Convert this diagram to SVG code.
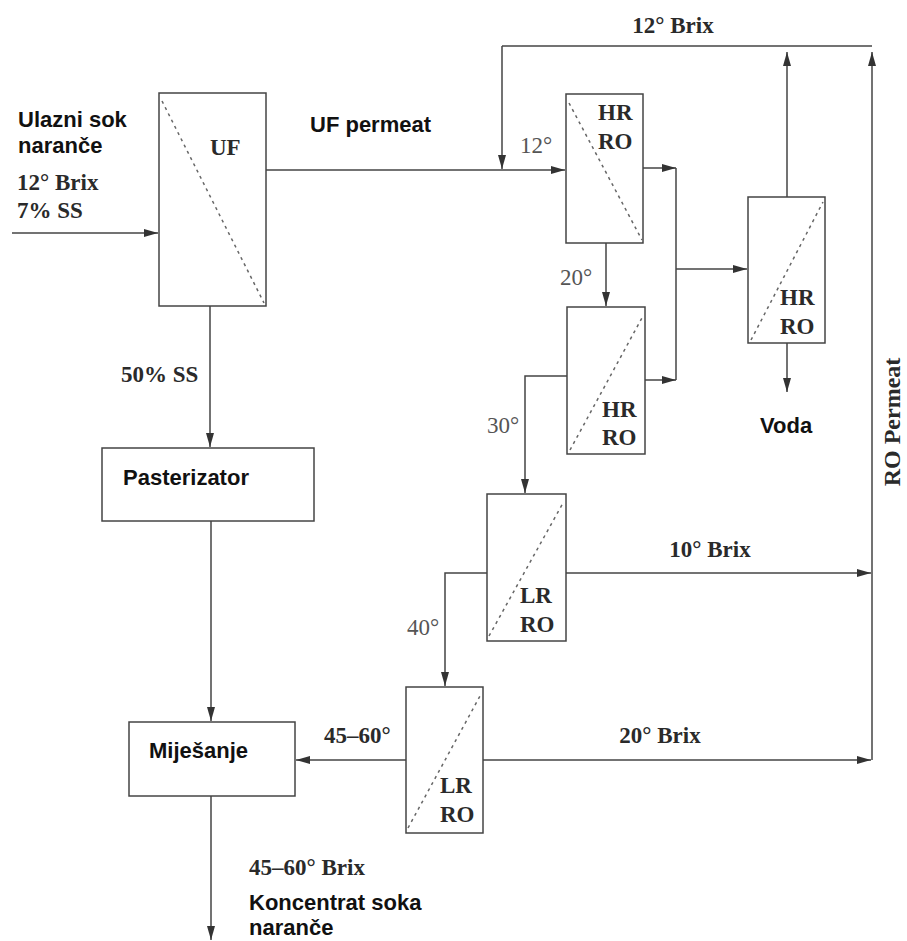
<svg xmlns="http://www.w3.org/2000/svg" width="907" height="941" viewBox="0 0 907 941">
<style>
.box{fill:#fff;stroke:#444;stroke-width:1.5}
.dash{fill:none;stroke:#666;stroke-width:1.5;stroke-dasharray:3,4}
.ln{fill:none;stroke:#444;stroke-width:1.5}
.arr{fill:none;stroke:#444;stroke-width:1.5;marker-end:url(#ah)}
.sb{font-family:"Times New Roman","Liberation Serif",serif;font-weight:bold;font-size:23px;fill:#2a2a2a}
.sr{font-family:"Times New Roman","Liberation Serif",serif;font-size:23px;fill:#555}
.ss{font-family:Arial,"Liberation Sans",sans-serif;font-weight:bold;font-size:22px;fill:#111}
</style>
<defs>
<marker id="ah" viewBox="0 0 14 8" refX="14" refY="4" markerWidth="14" markerHeight="8" markerUnits="userSpaceOnUse" orient="auto">
<path d="M0,0 L14,4 L0,8 Z" fill="#333"/>
</marker>
</defs>
<rect width="907" height="941" fill="#fff"/>

<g id="connectors">
<path class="arr" d="M12,233 H158"/>
<path class="arr" d="M266,170 H565"/>
<path class="ln" d="M502,46 H872"/>
<path class="arr" d="M502,46 V169"/>
<path class="arr" d="M787,197 V52"/>
<path class="arr" d="M872,760 V52"/>
<path class="arr" d="M643,168 H676"/>
<path class="ln" d="M676,168 V380"/>
<path class="arr" d="M645,380 H676"/>
<path class="arr" d="M676,269 H747"/>
<path class="arr" d="M606,243 V306"/>
<path class="arr" d="M567,376 H525 V493"/>
<path class="arr" d="M566,573 H871"/>
<path class="arr" d="M487,573 H445 V686"/>
<path class="arr" d="M483,760 H871"/>
<path class="arr" d="M406,760 H296"/>
<path class="arr" d="M210,306 V447"/>
<path class="arr" d="M211,521 V721"/>
<path class="arr" d="M211,796 V940"/>
<path class="arr" d="M787,343 V392"/>
</g>

<g id="uf">
<rect class="box" x="159" y="93" width="107" height="213"/>
<path class="dash" d="M162,101 L264,303"/>
<text class="sb" x="210" y="155">UF</text>
</g>

<g id="hrro1">
<rect class="box" x="566" y="94" width="77" height="149"/>
<path class="dash" d="M569,103 L642,240"/>
<text class="sb" x="598" y="120">HR</text>
<text class="sb" x="598" y="149">RO</text>
</g>

<g id="hrro2">
<rect class="box" x="567" y="307" width="78" height="147"/>
<path class="dash" d="M570,450 L643,316"/>
<text class="sb" x="602" y="417">HR</text>
<text class="sb" x="602" y="445">RO</text>
</g>

<g id="hrro3">
<rect class="box" x="748" y="197" width="77" height="146"/>
<path class="dash" d="M751,340 L823,202"/>
<text class="sb" x="780" y="305">HR</text>
<text class="sb" x="780" y="334">RO</text>
</g>

<g id="lrro1">
<rect class="box" x="487" y="494" width="79" height="147"/>
<path class="dash" d="M489,636 L563,503"/>
<text class="sb" x="520" y="603">LR</text>
<text class="sb" x="520" y="632">RO</text>
</g>

<g id="lrro2">
<rect class="box" x="406" y="687" width="77" height="146"/>
<path class="dash" d="M408,828 L480,696"/>
<text class="sb" x="440" y="793">LR</text>
<text class="sb" x="440" y="822">RO</text>
</g>

<g id="pasterizator">
<rect class="box" x="102" y="448" width="212" height="73"/>
<text class="ss" x="123" y="485">Pasterizator</text>
</g>

<g id="mijesanje">
<rect class="box" x="129" y="722" width="166" height="74"/>
<text class="ss" x="149" y="758">Miješanje</text>
</g>

<g id="labels">
<text class="ss" x="18" y="127">Ulazni sok</text>
<text class="ss" x="18" y="153">naranče</text>
<text class="sb" x="17" y="190">12° Brix</text>
<text class="sb" x="17" y="218">7% SS</text>
<text class="ss" x="310" y="132">UF permeat</text>
<text class="sr" x="520" y="153">12°</text>
<text class="sb" x="673" y="33" text-anchor="middle">12° Brix</text>
<text class="sr" x="560" y="285">20°</text>
<text class="sr" x="487" y="433">30°</text>
<text class="sr" x="407" y="635">40°</text>
<text class="ss" x="760" y="433">Voda</text>
<text class="sb" x="710" y="557" text-anchor="middle">10° Brix</text>
<text class="sb" x="660" y="743" text-anchor="middle">20° Brix</text>
<text class="sb" x="324" y="743">45–60°</text>
<text class="sb" x="121" y="382">50% SS</text>
<text class="sb" x="249" y="875">45–60° Brix</text>
<text class="ss" x="249" y="910">Koncentrat soka</text>
<text class="ss" x="249" y="935">naranče</text>
<text class="sb" style="font-size:24px" transform="translate(900,422) rotate(-90)" text-anchor="middle">RO Permeat</text>
</g>
</svg>
